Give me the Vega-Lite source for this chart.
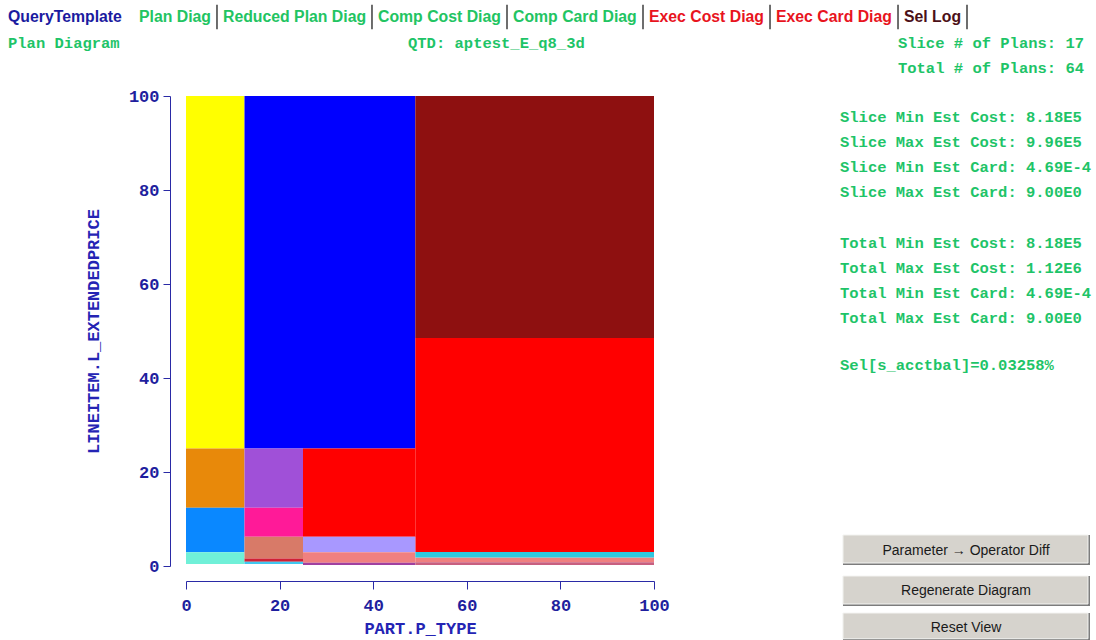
{
  "$schema": "https://vega.github.io/schema/vega-lite/v6.json",
  "width": 468,
  "height": 470,
  "autosize": {"type": "none"},
  "padding": {"left": 186, "top": 96, "right": 442, "bottom": 74},
  "background": "white",
  "config": {"view": {"stroke": null}},
  "datasets": {
    "plans": [
      {"plan": "P1", "x0": 0, "x1": 12.5, "y0": 25, "y1": 100},
      {"plan": "P2", "x0": 12.5, "x1": 49, "y0": 25, "y1": 100},
      {"plan": "P3", "x0": 49, "x1": 100, "y0": 48.5, "y1": 100},
      {"plan": "P4", "x0": 25, "x1": 49, "y0": 6.2, "y1": 25},
      {"plan": "P4", "x0": 49, "x1": 100, "y0": 3.0, "y1": 48.5},
      {"plan": "P5", "x0": 0, "x1": 12.5, "y0": 12.4, "y1": 25},
      {"plan": "P6", "x0": 0, "x1": 12.5, "y0": 2.9, "y1": 12.4},
      {"plan": "P7", "x0": 0, "x1": 12.5, "y0": 0.4, "y1": 2.9},
      {"plan": "P8", "x0": 12.5, "x1": 25, "y0": 12.4, "y1": 25},
      {"plan": "P9", "x0": 12.5, "x1": 25, "y0": 6.2, "y1": 12.4},
      {"plan": "P10", "x0": 12.5, "x1": 25, "y0": 1.6, "y1": 6.2},
      {"plan": "P11", "x0": 12.5, "x1": 25, "y0": 0.9, "y1": 1.6},
      {"plan": "P12", "x0": 12.5, "x1": 25, "y0": 0.4, "y1": 0.9},
      {"plan": "P13", "x0": 25, "x1": 49, "y0": 2.9, "y1": 6.2},
      {"plan": "P14", "x0": 25, "x1": 49, "y0": 0.7, "y1": 2.9},
      {"plan": "P14", "x0": 49, "x1": 100, "y0": 0.8, "y1": 1.8},
      {"plan": "P15", "x0": 25, "x1": 49, "y0": 0.2, "y1": 0.7},
      {"plan": "P16", "x0": 49, "x1": 100, "y0": 1.8, "y1": 3.0},
      {"plan": "P17", "x0": 49, "x1": 100, "y0": 0.2, "y1": 0.8}
    ],
    "nav": [
      {"label": "QueryTemplate", "x": -38.03, "kind": "home"},
      {"label": "Plan Diag", "x": -10.04, "kind": "diag"},
      {"label": "Reduced Plan Diag", "x": 7.91, "kind": "diag"},
      {"label": "Comp Cost Diag", "x": 41.03, "kind": "diag"},
      {"label": "Comp Card Diag", "x": 69.87, "kind": "diag"},
      {"label": "Exec Cost Diag", "x": 98.93, "kind": "exec"},
      {"label": "Exec Card Diag", "x": 126.07, "kind": "exec"},
      {"label": "Sel Log", "x": 153.42, "kind": "log"}
    ],
    "separators": [
      {"x": 6.62}, {"x": 39.74}, {"x": 68.59}, {"x": 97.65},
      {"x": 124.79}, {"x": 152.14}, {"x": 166.88}
    ],
    "info": [
      {"label": "Plan Diagram", "x": -38.03, "y": 111.28},
      {"label": "QTD: aptest_E_q8_3d", "x": 47.44, "y": 111.28},
      {"label": "Slice Min Est Cost: 8.18E5", "x": 139.74, "y": 95.53},
      {"label": "Slice Max Est Cost: 9.96E5", "x": 139.74, "y": 90.21},
      {"label": "Slice Min Est Card: 4.69E-4", "x": 139.74, "y": 84.89},
      {"label": "Slice Max Est Card: 9.00E0", "x": 139.74, "y": 79.57},
      {"label": "Total Min Est Cost: 8.18E5", "x": 139.74, "y": 68.72},
      {"label": "Total Max Est Cost: 1.12E6", "x": 139.74, "y": 63.40},
      {"label": "Total Min Est Card: 4.69E-4", "x": 139.74, "y": 58.09},
      {"label": "Total Max Est Card: 9.00E0", "x": 139.74, "y": 52.77},
      {"label": "Sel[s_acctbal]=0.03258%", "x": 139.74, "y": 42.77}
    ],
    "counts": [
      {"label": "Slice # of Plans: 17", "x": 191.88, "y": 111.28},
      {"label": "Total # of Plans: 64", "x": 191.88, "y": 105.96}
    ],
    "buttons": [
      {"label": "Parameter → Operator Diff", "x0": 140.38, "x1": 193.16, "y0": 0.21, "y1": 6.6, "xc": 166.67, "yc": 3.2},
      {"label": "Regenerate Diagram", "x0": 140.38, "x1": 193.16, "y0": -8.51, "y1": -2.13, "xc": 166.67, "yc": -5.3},
      {"label": "Reset View", "x0": 140.38, "x1": 193.16, "y0": -15.9, "y1": -10.0, "xc": 166.67, "yc": -13.2}
    ]
  },
  "layer": [
    {
      "data": {"name": "plans"},
      "mark": {"type": "rect"},
      "encoding": {
        "x": {
          "field": "x0", "type": "quantitative",
          "scale": {"domain": [0, 100], "nice": false, "zero": false},
          "axis": {
            "title": "PART.P_TYPE", "values": [0, 20, 40, 60, 80, 100],
            "offset": 15, "grid": false, "tickSize": 8, "labelPadding": 8,
            "labelFlush": false,
            "domainColor": "#2a2aa6", "tickColor": "#2a2aa6",
            "labelColor": "#1f1f9e", "labelFont": "Liberation Mono",
            "labelFontWeight": "bold", "labelFontSize": 17,
            "titleColor": "#2424b4", "titleFont": "Liberation Mono",
            "titleFontWeight": "bold", "titleFontSize": 17, "titlePadding": 7
          }
        },
        "x2": {"field": "x1"},
        "y": {
          "field": "y1", "type": "quantitative",
          "scale": {"domain": [0, 100], "nice": false, "zero": false},
          "axis": {
            "title": "LINEITEM.L_EXTENDEDPRICE", "values": [0, 20, 40, 60, 80, 100],
            "offset": 16, "grid": false, "tickSize": 7, "labelPadding": 4,
            "domainColor": "#2a2aa6", "tickColor": "#2a2aa6",
            "labelColor": "#1f1f9e", "labelFont": "Liberation Mono",
            "labelFontWeight": "bold", "labelFontSize": 17,
            "titleColor": "#2424b4", "titleFont": "Liberation Mono",
            "titleFontWeight": "bold", "titleFontSize": 17, "titlePadding": 26
          }
        },
        "y2": {"field": "y0"},
        "color": {
          "field": "plan", "type": "nominal", "legend": null,
          "scale": {
            "domain": ["P1", "P2", "P3", "P4", "P5", "P6", "P7", "P8", "P9", "P10", "P11", "P12", "P13", "P14", "P15", "P16", "P17"],
            "range": ["#ffff00", "#0000ff", "#8e1010", "#ff0000", "#e8890a", "#0a88ff", "#70f0d8", "#a050d8", "#ff1a98", "#d87a68", "#d02035", "#40c8f0", "#a898ff", "#f08080", "#a040a0", "#30c8e0", "#c86080"]
          }
        }
      }
    },
    {
      "data": {"name": "separators"},
      "mark": {"type": "rule", "color": "#4a4a4a", "strokeWidth": 1.6},
      "encoding": {
        "x": {"field": "x", "type": "quantitative", "scale": {"domain": [0, 100], "nice": false, "zero": false}, "axis": null},
        "y": {"datum": 119.4, "type": "quantitative", "scale": {"domain": [0, 100], "nice": false, "zero": false}, "axis": null},
        "y2": {"datum": 114.2}
      }
    },
    {
      "data": {"name": "nav"},
      "mark": {"type": "text", "align": "left", "baseline": "middle", "font": "Liberation Sans", "fontWeight": "bold", "fontSize": 15.8},
      "encoding": {
        "x": {"field": "x", "type": "quantitative", "scale": {"domain": [0, 100], "nice": false, "zero": false}, "axis": null},
        "y": {"datum": 116.8, "type": "quantitative", "scale": {"domain": [0, 100], "nice": false, "zero": false}, "axis": null},
        "text": {"field": "label"},
        "color": {
          "field": "kind", "type": "nominal", "legend": null,
          "scale": {"domain": ["home", "diag", "exec", "log"], "range": ["#1b1ba0", "#22c462", "#e8141e", "#4c1018"]}
        }
      }
    },
    {
      "data": {"name": "info"},
      "mark": {"type": "text", "align": "left", "baseline": "middle", "font": "Liberation Mono", "fontWeight": "bold", "fontSize": 15.5, "color": "#1ec468"},
      "encoding": {
        "x": {"field": "x", "type": "quantitative", "scale": {"domain": [0, 100], "nice": false, "zero": false}, "axis": null},
        "y": {"field": "y", "type": "quantitative", "scale": {"domain": [0, 100], "nice": false, "zero": false}, "axis": null},
        "text": {"field": "label"}
      }
    },
    {
      "data": {"name": "counts"},
      "mark": {"type": "text", "align": "right", "baseline": "middle", "font": "Liberation Mono", "fontWeight": "bold", "fontSize": 15.5, "color": "#1ec468"},
      "encoding": {
        "x": {"field": "x", "type": "quantitative", "scale": {"domain": [0, 100], "nice": false, "zero": false}, "axis": null},
        "y": {"field": "y", "type": "quantitative", "scale": {"domain": [0, 100], "nice": false, "zero": false}, "axis": null},
        "text": {"field": "label"}
      }
    },
    {
      "data": {"name": "buttons"},
      "mark": {"type": "rect", "color": "#7c7c7c"},
      "encoding": {
        "x": {"field": "x0", "type": "quantitative", "scale": {"domain": [0, 100], "nice": false, "zero": false}, "axis": null},
        "x2": {"field": "x1"},
        "y": {"field": "y1", "type": "quantitative", "scale": {"domain": [0, 100], "nice": false, "zero": false}, "axis": null},
        "y2": {"field": "y0"}
      }
    },
    {
      "data": {"name": "buttons"},
      "mark": {"type": "rect", "color": "#d6d3cd", "x2Offset": -2, "y2Offset": -2, "stroke": "#f4f4f2", "strokeWidth": 1},
      "encoding": {
        "x": {"field": "x0", "type": "quantitative", "scale": {"domain": [0, 100], "nice": false, "zero": false}, "axis": null},
        "x2": {"field": "x1"},
        "y": {"field": "y1", "type": "quantitative", "scale": {"domain": [0, 100], "nice": false, "zero": false}, "axis": null},
        "y2": {"field": "y0"}
      }
    },
    {
      "data": {"name": "buttons"},
      "mark": {"type": "text", "align": "center", "baseline": "middle", "font": "Liberation Sans", "fontSize": 14, "color": "#1a1a1a"},
      "encoding": {
        "x": {"field": "xc", "type": "quantitative", "scale": {"domain": [0, 100], "nice": false, "zero": false}, "axis": null},
        "y": {"field": "yc", "type": "quantitative", "scale": {"domain": [0, 100], "nice": false, "zero": false}, "axis": null},
        "text": {"field": "label"}
      }
    }
  ],
  "resolve": {
    "scale": {"color": "independent"},
    "axis": {"x": "independent", "y": "independent"}
  }
}
